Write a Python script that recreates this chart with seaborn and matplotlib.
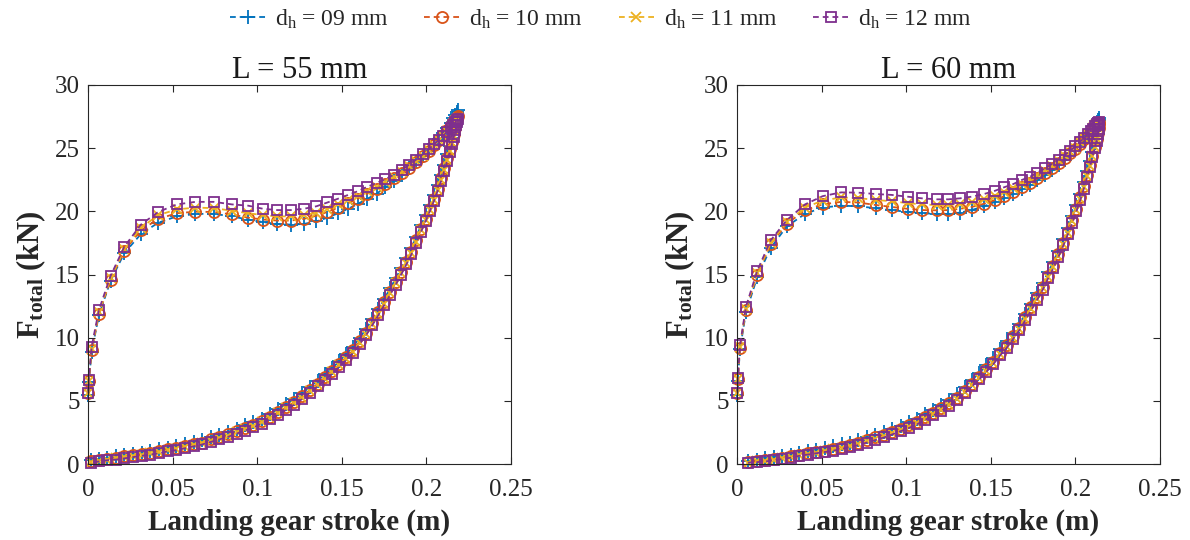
import matplotlib
matplotlib.use("Agg")
import matplotlib.pyplot as plt
import pandas as pd
import seaborn as sns

# ---------------------------------------------------------------- data
diameters = ["09", "10", "11", "12"]
lengths = ["55", "60"]
x_ticks = [0, 0.05, 0.1, 0.15, 0.2, 0.25]
x_tick_labels = ["0", "0.05", "0.1", "0.15", "0.2", "0.25"]
y_ticks = [0, 5, 10, 15, 20, 25, 30]

# L = 55 mm : stroke (m) along compression and along rebound
stroke_load_55 = [0.0003, 0.0005, 0.0022, 0.0065, 0.0134, 0.0215, 0.0313, 0.0415, 0.0525, 0.0635,
                  0.0745, 0.0850, 0.0946, 0.1035, 0.1118, 0.1198, 0.1275, 0.1350, 0.1415, 0.1478,
                  0.1538, 0.1596, 0.1652, 0.1706, 0.1758, 0.1808, 0.1855, 0.1899, 0.1940, 0.1978,
                  0.2013, 0.2045, 0.2074, 0.2100, 0.2123, 0.2143, 0.2159, 0.2171, 0.2179, 0.2184]
stroke_unload_55 = [0.2182, 0.2178, 0.2171, 0.2162, 0.2151, 0.2138, 0.2123, 0.2106, 0.2087, 0.2066,
                    0.2044, 0.2020, 0.1995, 0.1969, 0.1941, 0.1912, 0.1882, 0.1851, 0.1819, 0.1786,
                    0.1752, 0.1717, 0.1681, 0.1644, 0.1606, 0.1567, 0.1527, 0.1486, 0.1444, 0.1401,
                    0.1357, 0.1312, 0.1266, 0.1219, 0.1172, 0.1124, 0.1076, 0.1027, 0.0978, 0.0928,
                    0.0878, 0.0828, 0.0777, 0.0726, 0.0675, 0.0624, 0.0573, 0.0522, 0.0471, 0.0420,
                    0.0369, 0.0318, 0.0267, 0.0216, 0.0165, 0.0114, 0.0063, 0.0020]

# L = 55 mm : total force (kN)
force_load_55_09 = [5.5, 6.5, 8.9, 11.8, 14.5, 16.7, 18.2, 19.1, 19.6, 19.8,
                    19.8, 19.6, 19.35, 19.15, 19.0, 18.95, 19.0, 19.2, 19.5, 19.85,
                    20.2, 20.6, 21.0, 21.4, 21.9, 22.4, 22.9, 23.4, 23.9, 24.35,
                    24.8, 25.3, 25.75, 26.2, 26.6, 27.0, 27.35, 27.65, 27.85, 28.0]
force_load_55_10 = [5.6, 6.6, 9.0, 11.9, 14.6, 16.9, 18.5, 19.4, 19.85, 19.97,
                    19.95, 19.75, 19.5, 19.35, 19.27, 19.27, 19.4, 19.65, 19.95, 20.3,
                    20.65, 21.0, 21.4, 21.8, 22.2, 22.6, 23.0, 23.45, 23.9, 24.35,
                    24.8, 25.25, 25.65, 26.05, 26.4, 26.75, 27.05, 27.3, 27.45, 27.55]
force_load_55_11 = [5.6, 6.6, 9.1, 12.0, 14.7, 17.0, 18.7, 19.7, 20.15, 20.3,
                    20.25, 20.05, 19.85, 19.7, 19.6, 19.6, 19.7, 19.9, 20.2, 20.55,
                    20.9, 21.2, 21.6, 21.95, 22.35, 22.75, 23.15, 23.55, 24.0, 24.4,
                    24.85, 25.25, 25.65, 26.0, 26.35, 26.65, 26.95, 27.15, 27.3, 27.4]
force_load_55_12 = [5.6, 6.65, 9.3, 12.2, 14.9, 17.2, 18.95, 19.95, 20.55, 20.75,
                    20.75, 20.55, 20.45, 20.2, 20.1, 20.1, 20.2, 20.4, 20.7, 21.0,
                    21.3, 21.6, 21.95, 22.25, 22.55, 22.9, 23.3, 23.7, 24.1, 24.5,
                    24.9, 25.3, 25.65, 26.0, 26.3, 26.6, 26.85, 27.05, 27.2, 27.3]
force_unload_55_09 = [27.7, 27.3, 26.9, 26.4, 25.8, 25.2, 24.5, 23.7, 22.9, 22.1,
                      21.3, 20.5, 19.7, 18.9, 18.0, 17.1, 16.3, 15.5, 14.7, 13.9,
                      13.1, 12.3, 11.5, 10.7, 10.0, 9.3, 8.7, 8.15, 7.6, 7.1,
                      6.6, 6.1, 5.6, 5.15, 4.75, 4.35, 3.95, 3.6, 3.3, 3.05,
                      2.8, 2.55, 2.3, 2.1, 1.9, 1.75, 1.6, 1.45, 1.3, 1.15,
                      1.0, 0.9, 0.8, 0.7, 0.6, 0.5, 0.4, 0.3]
force_unload_55_10 = [27.3, 27.0, 26.6, 26.1, 25.5, 24.9, 24.2, 23.4, 22.6, 21.8,
                      21.0, 20.2, 19.4, 18.6, 17.7, 16.8, 16.0, 15.2, 14.4, 13.6,
                      12.8, 12.0, 11.2, 10.4, 9.7, 9.0, 8.45, 7.9, 7.35, 6.85,
                      6.35, 5.85, 5.35, 4.9, 4.5, 4.1, 3.75, 3.4, 3.1, 2.85,
                      2.6, 2.35, 2.1, 1.95, 1.7, 1.6, 1.45, 1.3, 1.2, 1.05,
                      0.9, 0.8, 0.7, 0.6, 0.5, 0.4, 0.3, 0.2]
force_unload_55_11 = [27.2, 26.9, 26.5, 26.0, 25.4, 24.8, 24.1, 23.3, 22.5, 21.7,
                      20.9, 20.1, 19.3, 18.5, 17.6, 16.7, 15.9, 15.1, 14.3, 13.5,
                      12.7, 11.9, 11.1, 10.3, 9.6, 8.9, 8.35, 7.8, 7.25, 6.75,
                      6.25, 5.75, 5.25, 4.8, 4.4, 4.0, 3.65, 3.3, 3.0, 2.75,
                      2.5, 2.25, 2.05, 1.85, 1.65, 1.5, 1.35, 1.2, 1.1, 0.95,
                      0.85, 0.75, 0.65, 0.55, 0.45, 0.35, 0.25, 0.15]
force_unload_55_12 = [27.1, 26.8, 26.4, 25.9, 25.3, 24.7, 24.0, 23.2, 22.4, 21.6,
                      20.8, 20.0, 19.2, 18.4, 17.5, 16.6, 15.8, 15.0, 14.2, 13.4,
                      12.6, 11.8, 11.0, 10.2, 9.5, 8.8, 8.25, 7.7, 7.15, 6.65,
                      6.15, 5.65, 5.15, 4.7, 4.3, 3.9, 3.55, 3.2, 2.9, 2.65,
                      2.4, 2.15, 1.95, 1.75, 1.55, 1.4, 1.25, 1.1, 1.0, 0.85,
                      0.75, 0.65, 0.55, 0.45, 0.35, 0.3, 0.2, 0.1]

# L = 60 mm : stroke (m)
stroke_load_60 = [0.0003, 0.0005, 0.0018, 0.0053, 0.0120, 0.0199, 0.0294, 0.0402, 0.0506, 0.0615,
                  0.0717, 0.0820, 0.0914, 0.1009, 0.1092, 0.1180, 0.1249, 0.1318, 0.1387, 0.1460,
                  0.1525, 0.1578, 0.1633, 0.1683, 0.1732, 0.1775, 0.1820, 0.1862, 0.1901, 0.1937,
                  0.1970, 0.2000, 0.2027, 0.2051, 0.2072, 0.2090, 0.2105, 0.2117, 0.2126, 0.2133,
                  0.2137]
stroke_unload_60 = [0.2140, 0.2138, 0.2133, 0.2125, 0.2114, 0.2101, 0.2086, 0.2069, 0.2050, 0.2029,
                    0.2006, 0.1982, 0.1956, 0.1929, 0.1900, 0.1870, 0.1839, 0.1807, 0.1774, 0.1740,
                    0.1705, 0.1669, 0.1632, 0.1594, 0.1555, 0.1515, 0.1474, 0.1432, 0.1389, 0.1345,
                    0.1300, 0.1254, 0.1208, 0.1161, 0.1113, 0.1065, 0.1016, 0.0967, 0.0918, 0.0868,
                    0.0818, 0.0768, 0.0718, 0.0668, 0.0618, 0.0568, 0.0518, 0.0468, 0.0418, 0.0368,
                    0.0318, 0.0268, 0.0218, 0.0168, 0.0118, 0.0065]

# L = 60 mm : total force (kN)
force_load_60_09 = [5.5, 6.6, 9.1, 12.0, 14.8, 17.1, 18.8, 19.8, 20.3, 20.45,
                    20.4, 20.25, 20.1, 19.95, 19.85, 19.8, 19.8, 19.9, 20.1, 20.4,
                    20.75, 21.05, 21.4, 21.75, 22.1, 22.45, 22.85, 23.25, 23.65, 24.05,
                    24.45, 24.85, 25.25, 25.65, 26.0, 26.35, 26.65, 26.9, 27.1, 27.25,
                    27.35]
force_load_60_10 = [5.6, 6.7, 9.2, 12.2, 15.0, 17.4, 19.0, 20.1, 20.55, 20.75,
                    20.7, 20.5, 20.35, 20.2, 20.1, 20.08, 20.1, 20.2, 20.35, 20.6,
                    20.9, 21.2, 21.55, 21.9, 22.25, 22.6, 23.0, 23.4, 23.8, 24.2,
                    24.6, 24.95, 25.35, 25.7, 26.0, 26.3, 26.55, 26.75, 26.9, 27.0,
                    27.05]
force_load_60_11 = [5.6, 6.75, 9.3, 12.3, 15.1, 17.5, 19.15, 20.3, 20.85, 21.1,
                    21.05, 20.9, 20.8, 20.65, 20.55, 20.5, 20.5, 20.6, 20.75, 21.0,
                    21.25, 21.55, 21.85, 22.2, 22.5, 22.85, 23.2, 23.6, 23.95, 24.35,
                    24.7, 25.05, 25.45, 25.8, 26.1, 26.35, 26.6, 26.8, 26.95, 27.05,
                    27.1]
force_load_60_12 = [5.65, 6.8, 9.4, 12.45, 15.3, 17.7, 19.3, 20.55, 21.2, 21.5,
                    21.48, 21.37, 21.3, 21.16, 21.03, 20.95, 20.95, 21.03, 21.16, 21.37,
                    21.63, 21.9, 22.16, 22.48, 22.74, 23.06, 23.4, 23.75, 24.1, 24.45,
                    24.8, 25.15, 25.5, 25.8, 26.1, 26.35, 26.55, 26.75, 26.9, 27.0,
                    27.1]
force_unload_60_09 = [27.2, 26.9, 26.5, 26.0, 25.4, 24.7, 24.0, 23.2, 22.3, 21.4,
                      20.5, 19.6, 18.7, 17.8, 16.9, 16.0, 15.2, 14.3, 13.5, 12.7,
                      11.9, 11.1, 10.4, 9.7, 9.1, 8.4, 7.8, 7.2, 6.65, 6.1,
                      5.55, 5.1, 4.7, 4.3, 3.95, 3.6, 3.3, 3.0, 2.75, 2.5,
                      2.3, 2.1, 1.9, 1.7, 1.55, 1.4, 1.25, 1.1, 1.0, 0.9,
                      0.75, 0.65, 0.55, 0.45, 0.35, 0.25]
force_unload_60_10 = [26.9, 26.6, 26.2, 25.7, 25.1, 24.4, 23.7, 22.9, 22.0, 21.1,
                      20.2, 19.3, 18.4, 17.5, 16.6, 15.7, 14.9, 14.0, 13.2, 12.4,
                      11.6, 10.8, 10.1, 9.4, 8.8, 8.1, 7.5, 6.9, 6.35, 5.8,
                      5.25, 4.8, 4.4, 4.05, 3.7, 3.35, 3.05, 2.8, 2.55, 2.3,
                      2.1, 1.9, 1.7, 1.5, 1.35, 1.2, 1.05, 0.95, 0.85, 0.75,
                      0.6, 0.5, 0.4, 0.3, 0.25, 0.15]
force_unload_60_11 = [26.9, 26.6, 26.2, 25.7, 25.1, 24.4, 23.6, 22.8, 21.9, 21.0,
                      20.1, 19.2, 18.3, 17.4, 16.5, 15.6, 14.8, 13.9, 13.1, 12.3,
                      11.5, 10.7, 10.0, 9.3, 8.7, 8.0, 7.4, 6.8, 6.25, 5.7,
                      5.15, 4.7, 4.3, 3.95, 3.6, 3.25, 2.95, 2.7, 2.45, 2.2,
                      2.0, 1.8, 1.6, 1.45, 1.3, 1.15, 1.0, 0.9, 0.8, 0.7,
                      0.55, 0.45, 0.35, 0.25, 0.2, 0.1]
force_unload_60_12 = [26.8, 26.5, 26.1, 25.6, 25.0, 24.3, 23.5, 22.7, 21.8, 20.9,
                      20.0, 19.1, 18.2, 17.3, 16.4, 15.5, 14.7, 13.8, 13.0, 12.2,
                      11.4, 10.6, 9.9, 9.2, 8.6, 7.9, 7.3, 6.7, 6.15, 5.6,
                      5.05, 4.6, 4.2, 3.85, 3.5, 3.15, 2.85, 2.6, 2.35, 2.1,
                      1.9, 1.7, 1.5, 1.35, 1.2, 1.05, 0.95, 0.85, 0.75, 0.65,
                      0.5, 0.4, 0.3, 0.2, 0.15, 0.1]

force_load = {
    "55": [force_load_55_09, force_load_55_10, force_load_55_11, force_load_55_12],
    "60": [force_load_60_09, force_load_60_10, force_load_60_11, force_load_60_12],
}
force_unload = {
    "55": [force_unload_55_09, force_unload_55_10, force_unload_55_11, force_unload_55_12],
    "60": [force_unload_60_09, force_unload_60_10, force_unload_60_11, force_unload_60_12],
}
stroke_load = {"55": stroke_load_55, "60": stroke_load_60}
stroke_unload = {"55": stroke_unload_55, "60": stroke_unload_60}

# one long table: a full compression / rebound cycle per hole diameter
records = []
for L in lengths:
    for d, f_in, f_out in zip(diameters, force_load[L], force_unload[L]):
        xs = stroke_load[L] + stroke_unload[L]
        fs = f_in + f_out
        for k, (x, f) in enumerate(zip(xs, fs)):
            records.append({"L": L, "d": d, "step": k, "stroke": x, "force": f})
df = pd.DataFrame(records)

# ---------------------------------------------------------------- style
sns.set_theme(style="ticks")
plt.rcParams["font.family"] = ["Liberation Serif", "DejaVu Serif"]
plt.rcParams["mathtext.fontset"] = "custom"
plt.rcParams["mathtext.rm"] = "Liberation Serif"
plt.rcParams["mathtext.it"] = "Liberation Serif:italic"
plt.rcParams["mathtext.bf"] = "Liberation Serif:bold"
plt.rcParams["lines.dashed_pattern"] = [3.2, 2.2]

colors = {"09": "#0072BD", "10": "#D95319", "11": "#EDB120", "12": "#7E2F8E"}
markers = {"09": "+", "10": "o", "11": "x", "12": "s"}
sizes = {"09": 9.5, "10": 8, "11": 7.5, "12": 7}

fig = plt.figure(figsize=(11.9, 5.4), dpi=100)
ax_l = fig.add_axes([0.0739, 0.1407, 0.3555, 0.7019])
ax_r = fig.add_axes([0.6193, 0.1407, 0.3555, 0.7019])

for ax, L in zip([ax_l, ax_r], lengths):
    sub_L = df[df["L"] == L]
    for d in diameters:
        sub = sub_L[sub_L["d"] == d]
        sns.lineplot(data=sub, x="stroke", y="force", ax=ax, sort=False,
                     estimator=None, legend=False, color=colors[d],
                     linestyle="--", linewidth=1.3, marker=markers[d],
                     markersize=sizes[d], markerfacecolor="none",
                     markeredgecolor=colors[d], markeredgewidth=1.3,
                     clip_on=False)
    ax.set_xlim(0, 0.25)
    ax.set_ylim(0, 30)
    ax.set_xticks(x_ticks)
    ax.set_xticklabels(x_tick_labels)
    ax.set_yticks(y_ticks)
    ax.tick_params(direction="in", top=True, right=True, length=5, width=0.8,
                   labelsize=18, colors="#262626")
    ax.tick_params(axis="x", pad=11)
    ax.tick_params(axis="y", pad=6)
    for s in ax.spines.values():
        s.set_visible(True)
        s.set_linewidth(0.8)
        s.set_color("#262626")
    ax.set_title(f"L = {L} mm", fontsize=22, pad=5, color="#1a1a1a")
    ax.set_xlabel("Landing gear stroke (m)", fontsize=21, fontweight="bold",
                  labelpad=5, color="#262626")
    ax.set_ylabel(r"$\mathbf{F_{total}}$ (kN)", fontsize=22, fontweight="bold",
                  labelpad=5, color="#262626")

handles = ax_l.get_lines()[:4]
labels = [rf"d$_\mathrm{{h}}$ = {d} mm" for d in diameters]
fig.legend(handles, labels, loc="upper center", bbox_to_anchor=(0.505, 1.025),
           ncol=4, frameon=False, fontsize=17, handlelength=1.5,
           handletextpad=0.4, columnspacing=1.5)

fig.savefig("out.png", dpi=100)
